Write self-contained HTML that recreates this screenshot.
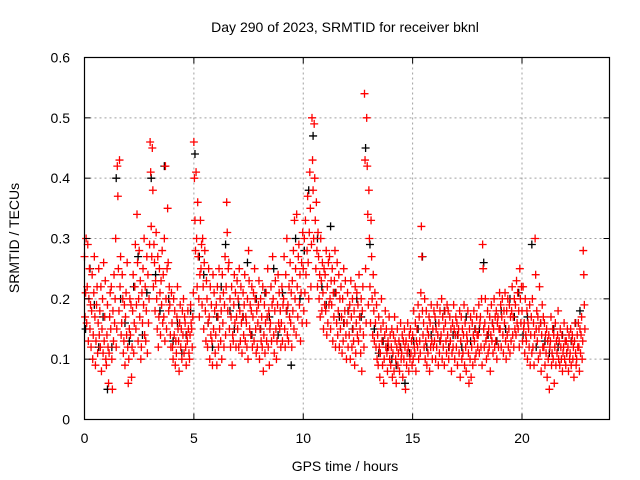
<!DOCTYPE html>
<html><head><meta charset="utf-8"><style>
body{margin:0;background:#fff}
svg{display:block;font-family:"Liberation Sans",sans-serif}
</style></head><body>
<svg id="chart" width="640" height="480" viewBox="0 0 640 480">
<rect width="640" height="480" fill="#fff"/>
<text x="345" y="32" font-size="14" text-anchor="middle">Day 290 of 2023, SRMTID for receiver bknl</text>
<text transform="translate(19,238) rotate(-90)" font-size="14" text-anchor="middle">SRMTID / TECUs</text>
<text x="345" y="471" font-size="14" text-anchor="middle">GPS time / hours</text>
<g id="grid"></g>
<g id="black"></g>
<g id="red"></g>
<g id="axes"></g>
</svg>
<script>
const xTicks = [0,5,10,15,20];
const yTicks = [0,0.1,0.2,0.3,0.4,0.5,0.6];
const yTickLabels = ["0","0.1","0.2","0.3","0.4","0.5","0.6"];
const redValues = [
.27,.17,.21,.30,.16,.22,.29,.13,.20,.25,.15,.19,.12,.18,.24,.10,.14,.21,.27,.17,.09,.13,.19,.22,.11,.16,.25,.14,.18,.12,.22,.08,.15,.20,.11,.26,.13,.17,.23,.10,
.09,.14,.19,.12,.06,.11,.17,.21,.15,.22,.10,.05,.18,.13,.24,.16,.20,.30,.12,.15,.42,.37,.25,.18,.43,.22,.27,.14,.16,.24,.20,.11,.13,.19,.09,.17,.21,.14,.26,.12,
.06,.10,.15,.20,.14,.19,.07,.12,.18,.24,.11,.16,.22,.29,.15,.19,.34,.26,.13,.20,.28,.17,.23,.10,.12,.21,.16,.25,.19,.30,.14,.22,.13,.18,.27,.11,.24,.16,.20,.29,
.46,.41,.32,.27,.45,.38,.22,.29,.26,.18,.23,.31,.20,.15,.27,.12,.17,.25,.21,.14,.23,.19,.28,.16,.24,.17,.30,.13,.42,.20,.15,.25,.35,.26,.18,.22,.19,.14,.12,.21,
.16,.12,.10,.20,.14,.18,.09,.13,.11,.17,.22,.15,.13,.08,.16,.19,.12,.15,.10,.18,.14,.20,.11,.17,.16,.12,.09,.14,.13,.18,.15,.11,.10,.14,.19,.16,.15,.12,.17,.21,
.46,.40,.33,.28,.41,.30,.22,.36,.27,.20,.17,.24,.33,.25,.29,.19,.30,.22,.15,.26,.28,.18,.13,.23,.20,.12,.16,.25,.17,.10,.22,.14,.19,.13,.09,.24,.15,.21,.18,.11,
.14,.19,.09,.22,.17,.12,.25,.15,.20,.13,.18,.10,.24,.16,.21,.12,.19,.27,.14,.22,.36,.31,.18,.25,.26,.15,.20,.12,.17,.22,.09,.14,.13,.19,.24,.16,.21,.12,.17,.23,
.15,.20,.12,.25,.18,.13,.22,.16,.11,.17,.21,.14,.19,.24,.13,.17,.16,.12,.20,.10,.28,.23,.15,.19,.14,.18,.22,.12,.17,.21,.13,.25,.20,.15,.11,.18,.12,.16,.19,.23,
.10,.15,.20,.13,.17,.12,.22,.08,.14,.19,.11,.16,.21,.13,.17,.25,.12,.18,.09,.15,.16,.22,.13,.19,.27,.20,.14,.11,.18,.23,.15,.10,.13,.19,.24,.16,.21,.15,.18,.12,
.16,.22,.13,.19,.20,.27,.15,.12,.24,.18,.30,.14,.19,.13,.22,.17,.26,.16,.21,.12,.23,.18,.28,.15,.33,.20,.25,.14,.34,.22,.17,.27,.29,.19,.24,.13,.21,.26,.16,.31,
.25,.18,.30,.21,.33,.24,.16,.28,.37,.26,.20,.31,.41,.35,.22,.29,.50,.43,.38,.30,.49,.40,.33,.25,.36,.28,.22,.31,.27,.20,.24,.17,.30,.23,.18,.26,.21,.15,.25,.19,
.24,.18,.28,.14,.22,.16,.26,.19,.27,.20,.15,.23,.19,.25,.13,.21,.17,.23,.28,.12,.21,.16,.26,.14,.18,.24,.12,.20,.15,.22,.17,.11,.20,.13,.25,.16,.18,.23,.14,.10,
.16,.21,.12,.18,.14,.19,.10,.23,.17,.12,.20,.15,.13,.18,.09,.22,.11,.16,.21,.14,.19,.13,.24,.17,.15,.11,.20,.08,.18,.22,.14,.12,.54,.43,.25,.16,.50,.42,.34,.19,
.38,.30,.22,.16,.33,.27,.20,.14,.24,.18,.13,.21,.16,.12,.19,.10,.14,.09,.17,.12,.07,.11,.15,.20,.13,.09,.16,.06,.10,.14,.18,.12,.15,.11,.08,.13,.12,.17,.10,.14,
.09,.12,.15,.07,.11,.14,.08,.17,.13,.10,.06,.12,.15,.09,.11,.13,.08,.12,.16,.10,.11,.14,.07,.13,.10,.15,.12,.05,.13,.09,.11,.16,.12,.08,.14,.10,.15,.11,.13,.09,
.14,.10,.18,.12,.11,.16,.08,.13,.15,.12,.19,.10,.17,.13,.11,.21,.32,.27,.18,.14,.16,.12,.20,.10,.13,.18,.09,.15,.11,.14,.17,.08,.16,.12,.19,.13,.10,.15,.12,.18,
.13,.17,.10,.15,.12,.19,.14,.09,.16,.11,.18,.13,.14,.20,.10,.17,.12,.15,.09,.18,.16,.13,.11,.19,.14,.18,.10,.12,.17,.13,.15,.08,.11,.16,.12,.19,.15,.10,.14,.17,
.12,.16,.09,.14,.15,.11,.18,.07,.13,.17,.10,.15,.11,.14,.19,.09,.16,.12,.08,.14,.13,.18,.11,.06,.15,.10,.17,.07,.12,.16,.09,.14,.18,.13,.10,.15,.11,.17,.14,.12,
.14,.19,.11,.16,.17,.12,.20,.09,.29,.25,.15,.12,.16,.20,.13,.10,.14,.18,.11,.15,.12,.17,.08,.14,.19,.13,.16,.11,.15,.20,.12,.17,.13,.18,.10,.16,.17,.12,.15,.21,
.15,.19,.12,.17,.20,.14,.11,.18,.16,.21,.13,.10,.18,.14,.20,.12,.15,.19,.11,.17,.13,.18,.22,.14,.17,.12,.20,.15,.19,.14,.23,.16,.21,.15,.18,.12,.25,.20,.16,.22,
.18,.13,.22,.15,.16,.11,.20,.14,.13,.18,.10,.16,.15,.12,.19,.09,.14,.17,.11,.20,.12,.16,.09,.14,.30,.24,.15,.18,.13,.17,.10,.15,.22,.11,.16,.08,.14,.19,.12,.17,
.12,.16,.09,.14,.11,.15,.07,.13,.10,.14,.05,.12,.13,.17,.09,.11,.15,.10,.14,.06,.12,.16,.09,.13,.11,.14,.18,.10,.13,.09,.15,.12,.10,.14,.08,.11,.12,.16,.10,.13,
.09,.13,.11,.15,.12,.08,.14,.10,.11,.15,.09,.13,.14,.10,.12,.07,.13,.16,.11,.09,.10,.14,.12,.16,.12,.08,.15,.11,.14,.17,.10,.13,.28,.24,.19,.15
];
const blackValues = [
.15,.25,.19,.12,.17, .05,.12,.40,.20,.16, .13,.22,.27,.14,.21, .40,.24,.18,.42,.20,
.13,.16,.11,.14,.18, .44,.27,.24,.16,.12, .17,.22,.29,.18,.15, .19,.17,.26,.14,.20,
.15,.21,.17,.25,.14, .21,.18,.09,.30,.20, .28,.38,.47,.30,.22, .19,.32,.21,.17,.16,
.18,.15,.20,.17,.45, .29,.15,.11,.13,.12, .10,.09,.12,.06,.11, .13,.15,.27,.12,.14,
.16,.13,.18,.12,.14, .14,.12,.17,.13,.15, .15,.26,.14,.16,.13, .18,.15,.20,.17,.21,
.14,.17,.29,.12,.16, .13,.11,.15,.12,.14, .11,.13,.16,.18
];
const redStep = 0.025;
const blackStep = 0.2;
const X0=84.5, X1=609.5, Y0=419.5, Y1=57.5, XMAX=24, YMAX=0.6;
function xs(h){return X0+(X1-X0)*h/XMAX;}
function ys(v){return Y0-(Y0-Y1)*v/YMAX;}
const NS="http://www.w3.org/2000/svg";
function mk(tag,attrs,parent){const e=document.createElementNS(NS,tag);for(const k in attrs)e.setAttribute(k,attrs[k]);parent.appendChild(e);return e;}
const grid=document.getElementById('grid'), axes=document.getElementById('axes');
xTicks.forEach(t=>{
  if(t>0){const l=mk('line',{x1:xs(t),x2:xs(t),y1:Y1,y2:Y0,stroke:'#a0a0a0','stroke-dasharray':'2,3'},grid);
  
  }
  mk('line',{x1:xs(t),x2:xs(t),y1:Y0,y2:Y0-6,stroke:'#000'},axes);
  mk('line',{x1:xs(t),x2:xs(t),y1:Y1,y2:Y1+6,stroke:'#000'},axes);
  const tx=mk('text',{x:xs(t),y:443,'font-size':14,'text-anchor':'middle'},axes);
  tx.textContent=t;
  
  
});
yTicks.forEach((t,i)=>{
  if(t>0&&t<YMAX){const l=mk('line',{x1:X0,x2:X1,y1:ys(t),y2:ys(t),stroke:'#a0a0a0','stroke-dasharray':'2,3'},grid);
  
  }
  mk('line',{x1:X0,x2:X0+6,y1:ys(t),y2:ys(t),stroke:'#000'},axes);
  mk('line',{x1:X1,x2:X1-6,y1:ys(t),y2:ys(t),stroke:'#000'},axes);
  const tx=mk('text',{x:70,y:ys(t)+5,'font-size':14,'text-anchor':'end'},axes);
  tx.textContent=yTickLabels[i];
  
  
});
const frame=mk('rect',{x:X0,y:Y1,width:X1-X0,height:Y0-Y1,fill:'none',stroke:'#000','stroke-width':1.2},axes);


function plus(g,h,v,color){
  const x=xs(h),y=ys(v);
  return mk('path',{d:`M${x-4},${y}H${x+4}M${x},${y-4}V${y+4}`,stroke:color,'stroke-width':1.3,fill:'none'},g);
}
const bg=document.getElementById('black'), rg=document.getElementById('red');
blackValues.forEach((v,i)=>{
  const p=plus(bg,0.05+i*blackStep,v,'#000');
  
  
});
redValues.forEach((v,i)=>{
  const p=plus(rg,i*redStep,v,'#f00');
  
  
});
</script>
</body></html>
